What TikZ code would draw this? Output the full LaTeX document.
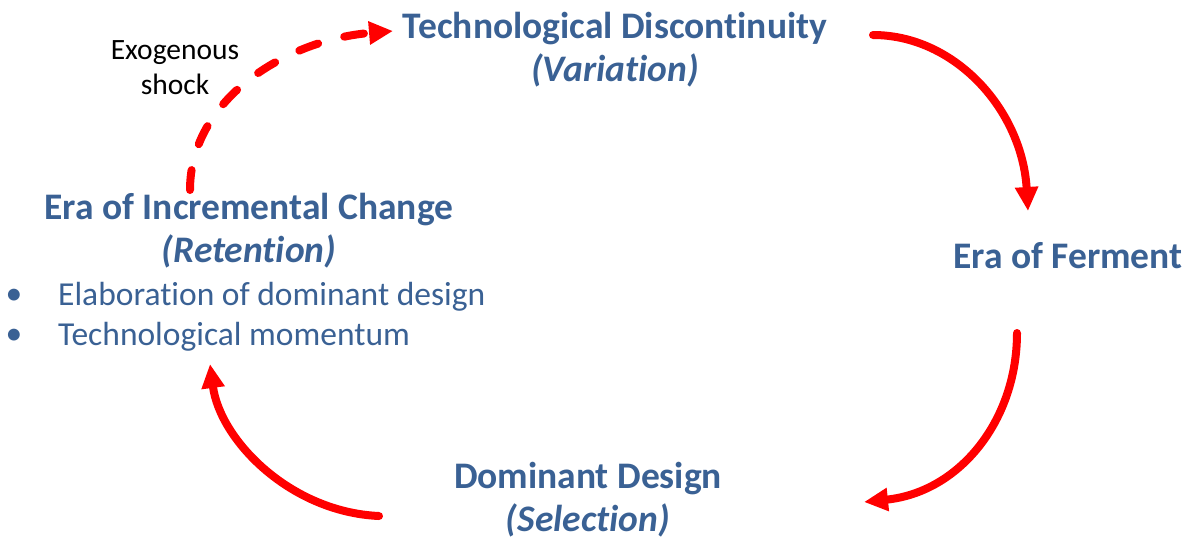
\documentclass[tikz,border=0pt]{standalone}
\usepackage{fontspec}
\setmainfont[Ligatures=NoCommon]{Carlito}
\usetikzlibrary{arrows.meta}
\definecolor{hblue}{HTML}{3A6194}
\definecolor{ared}{HTML}{FF0000}
\tikzset{
  heading/.style={text=hblue, font=\fontsize{37.5}{43}\selectfont\bfseries, align=center, inner sep=0pt},
  bullettext/.style={text=hblue, font=\fontsize{33.5}{40}\selectfont, anchor=west, inner sep=0pt},
  note/.style={text=black, font=\fontsize{29.5}{35}\selectfont, align=center, inner sep=0pt},
  cyc/.style={draw=ared, line width=8pt, line cap=round, -{Triangle[length=24pt,width=22pt]}},
  cycdash/.style={cyc, dash pattern=on 20pt off 27pt}
}
\begin{document}
\begin{tikzpicture}[x=1pt,y=-1pt]
\useasboundingbox (0,0) rectangle (1191,542);
% nodes
\node[heading] (disc) at (615,50) {Technological Discontinuity\\\textit{(Variation)}};
\node[heading] (ferm) at (1068,256) {Era of Ferment};
\node[heading] (dom) at (588,500) {Dominant Design\\\textit{(Selection)}};
\node[heading] (inc) at (249,231) {Era of Incremental Change\\\textit{(Retention)}};
\node[bullettext] (b1) at (58,297) {Elaboration of dominant design};
\node[bullettext] (b2) at (58,337) {Technological momentum};
\node[bullettext, anchor=center] (d1) at (14,297) {•};
\node[bullettext, anchor=center] (d2) at (14,337) {•};
\node[note] (exo) at (175,68) {Exogenous\\shock};
% connector end points
\coordinate (a1s) at (873,35);
\coordinate (a1e) at (1028,211);
\coordinate (a2s) at (1017,333);
\coordinate (a2e) at (864,502);
\coordinate (a3s) at (379,516);
\coordinate (a3e) at (210,364);
\coordinate (a4s) at (190,190);
\coordinate (a4e) at (393,31);
% connectors
\draw[cyc] (a1s) .. controls (955,35) and (1022,110) .. (a1e);
\draw[cyc] (a2s) .. controls (1017,420) and (960,492) .. (a2e);
\draw[cyc] (a3s) .. controls (290,512) and (220,440) .. (a3e);
\draw[cycdash] (a4s) .. controls (190,100) and (285,40) .. (a4e);
\end{tikzpicture}
\end{document}
